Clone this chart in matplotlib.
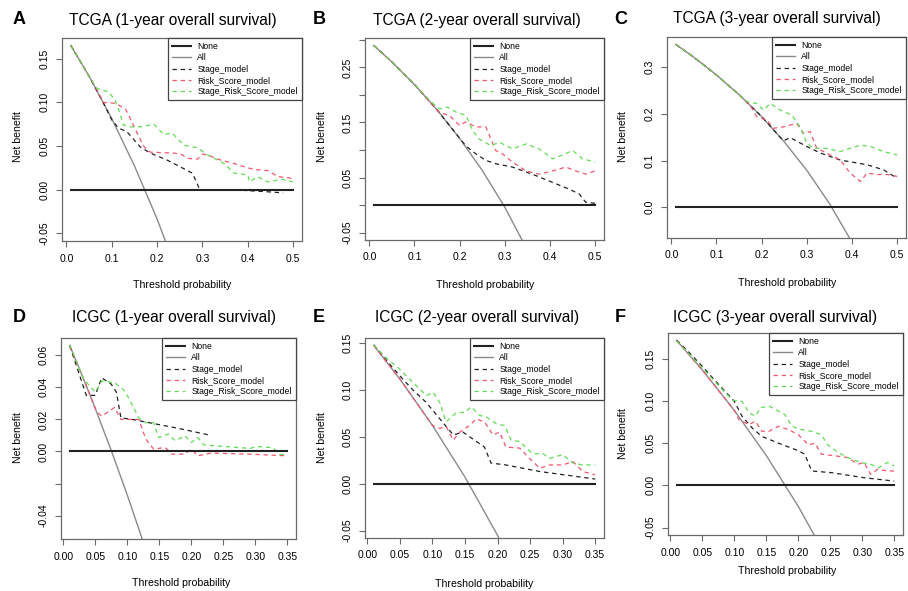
import matplotlib
matplotlib.use("Agg")
import matplotlib.pyplot as plt

plt.rcParams['font.family'] = ['Liberation Sans', 'DejaVu Sans']

W, H = 908, 591

# ---------------- data ----------------
# A  TCGA 1-year
a_all_x = [0.01, 0.05, 0.10, 0.15, 0.20, 0.25]
a_all_y = [0.165, 0.130, 0.0816, 0.0275, -0.0333, -0.102]
a_stage_x = [0.01, 0.05, 0.08, 0.10, 0.115, 0.133, 0.163, 0.185, 0.222, 0.252, 0.278, 0.285, 0.293, 0.296, 0.37, 0.40, 0.444, 0.478]
a_stage_y = [0.165, 0.130, 0.101, 0.080, 0.0705, 0.0667, 0.049, 0.042, 0.034, 0.026, 0.019, 0.011, 0.0015, 0.0, 0.0, -0.001, -0.0023, -0.0035]
a_risk_x = [0.01, 0.05, 0.07, 0.08, 0.107, 0.13, 0.17, 0.185, 0.237, 0.255, 0.267, 0.289, 0.30, 0.32, 0.34, 0.37, 0.40, 0.42, 0.444, 0.467, 0.50]
a_risk_y = [0.165, 0.130, 0.112, 0.100, 0.099, 0.093, 0.050, 0.043, 0.042, 0.040, 0.036, 0.035, 0.041, 0.038, 0.034, 0.030, 0.025, 0.023, 0.022, 0.015, 0.013]
a_comb_x = [0.01, 0.05, 0.067, 0.093, 0.107, 0.115, 0.126, 0.141, 0.163, 0.193, 0.215, 0.233, 0.259, 0.289, 0.311, 0.348, 0.37, 0.40, 0.404, 0.422, 0.444, 0.474, 0.50]
a_comb_y = [0.165, 0.130, 0.116, 0.112, 0.103, 0.092, 0.074, 0.072, 0.072, 0.075, 0.063, 0.065, 0.051, 0.048, 0.040, 0.030, 0.019, 0.017, 0.009, 0.015, 0.009, 0.012, 0.009]

# B  TCGA 2-year
b_all_x = [0.01, 0.05, 0.10, 0.15, 0.20, 0.25, 0.30, 0.35]
b_all_y = [0.290, 0.260, 0.219, 0.173, 0.121, 0.063, -0.004, -0.082]
b_stage_x = [0.01, 0.05, 0.10, 0.15, 0.214, 0.236, 0.258, 0.28, 0.317, 0.361, 0.406, 0.442, 0.465, 0.479, 0.50]
b_stage_y = [0.290, 0.260, 0.219, 0.173, 0.107, 0.093, 0.081, 0.075, 0.069, 0.056, 0.041, 0.029, 0.020, 0.005, 0.003]
b_risk_x = [0.01, 0.05, 0.10, 0.155, 0.177, 0.199, 0.214, 0.236, 0.258, 0.28, 0.295, 0.317, 0.347, 0.376, 0.406, 0.435, 0.457, 0.479, 0.50]
b_risk_y = [0.290, 0.260, 0.219, 0.168, 0.163, 0.145, 0.151, 0.142, 0.142, 0.099, 0.093, 0.078, 0.062, 0.056, 0.062, 0.069, 0.062, 0.056, 0.062]
b_comb_x = [0.01, 0.05, 0.10, 0.136, 0.155, 0.173, 0.192, 0.214, 0.229, 0.243, 0.269, 0.288, 0.317, 0.347, 0.376, 0.406, 0.428, 0.45, 0.472, 0.50]
b_comb_y = [0.290, 0.260, 0.219, 0.188, 0.175, 0.178, 0.169, 0.163, 0.135, 0.120, 0.108, 0.114, 0.102, 0.111, 0.102, 0.084, 0.091, 0.099, 0.084, 0.078]

# C  TCGA 3-year
c_all_x = [0.01, 0.05, 0.10, 0.15, 0.20, 0.25, 0.30, 0.35, 0.40]
c_all_y = [0.3485, 0.321, 0.283, 0.241, 0.194, 0.140, 0.079, 0.008, -0.075]
c_stage_x = [0.01, 0.05, 0.10, 0.15, 0.20, 0.241, 0.248, 0.263, 0.30, 0.33, 0.374, 0.433, 0.47, 0.50]
c_stage_y = [0.3485, 0.321, 0.283, 0.241, 0.194, 0.150, 0.142, 0.149, 0.130, 0.116, 0.101, 0.091, 0.080, 0.062]
c_risk_x = [0.01, 0.05, 0.10, 0.15, 0.175, 0.189, 0.211, 0.226, 0.248, 0.263, 0.278, 0.293, 0.307, 0.322, 0.344, 0.374, 0.396, 0.419, 0.433, 0.456, 0.478, 0.50]
c_risk_y = [0.3485, 0.321, 0.283, 0.241, 0.218, 0.194, 0.187, 0.169, 0.172, 0.176, 0.179, 0.158, 0.162, 0.126, 0.116, 0.101, 0.073, 0.055, 0.073, 0.070, 0.070, 0.066]
c_comb_x = [0.01, 0.05, 0.10, 0.15, 0.167, 0.189, 0.204, 0.219, 0.241, 0.267, 0.285, 0.30, 0.315, 0.344, 0.374, 0.389, 0.419, 0.441, 0.47, 0.50]
c_comb_y = [0.3485, 0.321, 0.283, 0.241, 0.226, 0.222, 0.208, 0.222, 0.208, 0.197, 0.172, 0.137, 0.126, 0.126, 0.119, 0.124, 0.133, 0.130, 0.119, 0.112]

# D  ICGC 1-year
d_all_x = [0.01, 0.03, 0.05, 0.075, 0.10, 0.125, 0.15]
d_all_y = [0.0662, 0.0469, 0.0268, 0.0005, -0.0272, -0.0566, -0.0876]
d_stage_x = [0.01, 0.036, 0.05, 0.06, 0.075, 0.083, 0.09, 0.108, 0.134, 0.185, 0.231]
d_stage_y = [0.066, 0.035, 0.035, 0.046, 0.042, 0.037, 0.021, 0.020, 0.018, 0.014, 0.010]
d_risk_x = [0.01, 0.03, 0.052, 0.06, 0.08, 0.09, 0.118, 0.129, 0.141, 0.159, 0.17, 0.19, 0.20, 0.21, 0.231, 0.292, 0.35]
d_risk_y = [0.066, 0.047, 0.025, 0.022, 0.0275, 0.020, 0.020, 0.0077, 0.0015, 0.0025, -0.0017, -0.0017, 0.0015, -0.0027, -0.001, -0.0017, -0.0027]
d_comb_x = [0.01, 0.032, 0.05, 0.06, 0.08, 0.093, 0.10, 0.118, 0.129, 0.141, 0.149, 0.164, 0.175, 0.19, 0.20, 0.21, 0.22, 0.251, 0.292, 0.302, 0.328, 0.338, 0.35]
d_comb_y = [0.0665, 0.045, 0.037, 0.044, 0.043, 0.039, 0.035, 0.021, 0.018, 0.018, 0.0087, 0.0108, 0.0067, 0.0098, 0.0056, 0.0088, 0.004, 0.0031, 0.0019, 0.0031, 0.0023, -0.002, -0.0017]

# E  ICGC 2-year
e_all_x = [0.01, 0.05, 0.10, 0.15, 0.20, 0.25]
e_all_y = [0.1475, 0.1116, 0.0622, 0.0071, -0.055, -0.125]
e_stage_x = [0.01, 0.03, 0.05, 0.07, 0.09, 0.132, 0.147, 0.18, 0.19, 0.213, 0.265, 0.35]
e_stage_y = [0.148, 0.131, 0.115, 0.100, 0.087, 0.052, 0.055, 0.039, 0.022, 0.020, 0.013, 0.005]
e_risk_x = [0.01, 0.05, 0.10, 0.111, 0.121, 0.132, 0.142, 0.157, 0.167, 0.18, 0.193, 0.203, 0.213, 0.234, 0.249, 0.265, 0.28, 0.30, 0.316, 0.331, 0.35]
e_risk_y = [0.1475, 0.1116, 0.0622, 0.059, 0.061, 0.0465, 0.055, 0.062, 0.069, 0.066, 0.052, 0.055, 0.039, 0.038, 0.027, 0.0165, 0.020, 0.020, 0.0236, 0.013, 0.0095]
e_comb_x = [0.01, 0.029, 0.05, 0.07, 0.091, 0.101, 0.111, 0.121, 0.137, 0.149, 0.16, 0.172, 0.183, 0.198, 0.211, 0.221, 0.234, 0.254, 0.27, 0.28, 0.30, 0.316, 0.331, 0.35]
e_comb_y = [0.148, 0.134, 0.122, 0.108, 0.094, 0.0975, 0.087, 0.066, 0.076, 0.076, 0.082, 0.073, 0.071, 0.064, 0.062, 0.0465, 0.045, 0.032, 0.032, 0.027, 0.031, 0.022, 0.020, 0.020]

# F  ICGC 3-year
f_all_x = [0.01, 0.05, 0.10, 0.15, 0.20, 0.25]
f_all_y = [0.1717, 0.1368, 0.0889, 0.0353, -0.025, -0.0933]
f_stage_x = [0.01, 0.03, 0.05, 0.075, 0.10, 0.112, 0.128, 0.143, 0.169, 0.20, 0.21, 0.221, 0.252, 0.303, 0.35]
f_stage_y = [0.172, 0.157, 0.141, 0.120, 0.0996, 0.082, 0.068, 0.058, 0.050, 0.041, 0.037, 0.017, 0.015, 0.009, 0.005]
f_risk_x = [0.01, 0.05, 0.10, 0.107, 0.123, 0.133, 0.143, 0.154, 0.169, 0.185, 0.20, 0.216, 0.226, 0.236, 0.257, 0.277, 0.293, 0.303, 0.313, 0.324, 0.339, 0.35]
f_risk_y = [0.1717, 0.1368, 0.0889, 0.078, 0.072, 0.076, 0.064, 0.064, 0.070, 0.066, 0.060, 0.048, 0.050, 0.037, 0.035, 0.033, 0.025, 0.027, 0.013, 0.019, 0.017, 0.017]
f_comb_x = [0.01, 0.025, 0.045, 0.066, 0.087, 0.097, 0.112, 0.123, 0.133, 0.141, 0.154, 0.169, 0.179, 0.19, 0.205, 0.221, 0.236, 0.246, 0.262, 0.277, 0.298, 0.313, 0.326, 0.339, 0.35]
f_comb_y = [0.171, 0.159, 0.143, 0.126, 0.109, 0.101, 0.0996, 0.086, 0.082, 0.092, 0.094, 0.088, 0.084, 0.070, 0.066, 0.064, 0.060, 0.048, 0.039, 0.033, 0.027, 0.025, 0.021, 0.027, 0.023]

titles = ["TCGA (1-year overall survival)", "TCGA (2-year overall survival)", "TCGA (3-year overall survival)",
          "ICGC (1-year overall survival)", "ICGC (2-year overall survival)", "ICGC (3-year overall survival)"]
letters = ["A", "B", "C", "D", "E", "F"]
legend_labels = ["None", "All", "Stage_model", "Risk_Score_model", "Stage_Risk_Score_model"]

top_xticks = [0.0, 0.1, 0.2, 0.3, 0.4, 0.5]
top_xlabels = ["0.0", "0.1", "0.2", "0.3", "0.4", "0.5"]
bot_xticks = [0.0, 0.05, 0.10, 0.15, 0.20, 0.25, 0.30, 0.35]
bot_xlabels = ["0.00", "0.05", "0.10", "0.15", "0.20", "0.25", "0.30", "0.35"]

a_yticks = [-0.05, 0.0, 0.05, 0.10, 0.15]
a_ylabels = ["-0.05", "0.00", "0.05", "0.10", "0.15"]
b_yticks = [-0.05, 0.0, 0.05, 0.10, 0.15, 0.20, 0.25, 0.30]
b_ylabels = ["-0.05", "", "0.05", "", "0.15", "", "0.25", ""]
c_yticks = [0.0, 0.1, 0.2, 0.3]
c_ylabels = ["0.0", "0.1", "0.2", "0.3"]
d_yticks = [-0.04, -0.02, 0.0, 0.02, 0.04, 0.06]
d_ylabels = ["-0.04", "", "0.00", "0.02", "0.04", "0.06"]
ef_yticks = [-0.05, 0.0, 0.05, 0.10, 0.15]
ef_ylabels = ["-0.05", "0.00", "0.05", "0.10", "0.15"]

panels = [
    (a_all_x, a_all_y, a_stage_x, a_stage_y, a_risk_x, a_risk_y, a_comb_x, a_comb_y, 0.5, top_xticks, top_xlabels, a_yticks, a_ylabels),
    (b_all_x, b_all_y, b_stage_x, b_stage_y, b_risk_x, b_risk_y, b_comb_x, b_comb_y, 0.5, top_xticks, top_xlabels, b_yticks, b_ylabels),
    (c_all_x, c_all_y, c_stage_x, c_stage_y, c_risk_x, c_risk_y, c_comb_x, c_comb_y, 0.5, top_xticks, top_xlabels, c_yticks, c_ylabels),
    (d_all_x, d_all_y, d_stage_x, d_stage_y, d_risk_x, d_risk_y, d_comb_x, d_comb_y, 0.35, bot_xticks, bot_xlabels, d_yticks, d_ylabels),
    (e_all_x, e_all_y, e_stage_x, e_stage_y, e_risk_x, e_risk_y, e_comb_x, e_comb_y, 0.35, bot_xticks, bot_xlabels, ef_yticks, ef_ylabels),
    (f_all_x, f_all_y, f_stage_x, f_stage_y, f_risk_x, f_risk_y, f_comb_x, f_comb_y, 0.35, bot_xticks, bot_xlabels, ef_yticks, ef_ylabels),
]

# axes boxes in pixels: left, right, top, bottom
boxes = [(62, 302, 38, 241), (365, 604, 38, 240), (667, 906, 37, 238),
         (61, 296, 338, 539), (365, 604, 338, 538), (668, 903, 333, 535)]
title_pos = [(173, 20), (477, 20), (777, 19), (174, 318), (477, 318), (775, 318)]
letter_pos = [(19, 20), (319, 20), (621, 19), (19, 318), (319, 318), (620, 318)]
xlab_pos = [(182, 285), (485, 285), (787, 283), (181, 583), (484, 584), (787, 571)]
ylab_pos = [(18, 137), (322, 137), (623, 137), (18, 438), (322, 438), (623, 434)]

fig = plt.figure(figsize=(W / 100, H / 100), dpi=100)

grey = "#8a8a8a"
frame = "#6a6a6a"
red = "#f2566f"
green = "#62dc55"
dash = (0, (3.5, 3))

for i, p in enumerate(panels):
    ax_x, ax_y, st_x, st_y, rk_x, rk_y, cb_x, cb_y, xmax, xt, xtl, yt, ytl = p
    l, r, t, b = boxes[i]
    ax = fig.add_axes([l / W, 1 - b / H, (r - l) / W, (b - t) / H])

    ax.plot(ax_x, ax_y, color=grey, lw=1.0, label=legend_labels[1], zorder=2)
    ax.plot(st_x, st_y, color="#222222", lw=0.9, ls=dash, label=legend_labels[2], zorder=3)
    ax.plot(rk_x, rk_y, color=red, lw=0.9, ls=dash, label=legend_labels[3], zorder=3)
    ax.plot(cb_x, cb_y, color=green, lw=0.9, ls=dash, label=legend_labels[4], zorder=3)
    ax.plot([0.01, xmax], [0, 0], color="#222222", lw=1.5, label=legend_labels[0], zorder=4)

    # R style 4% padding
    dx = (xmax - 0.01) * 0.04
    ax.set_xlim(0.01 - dx, xmax + dx)
    ymax = ax_y[0]
    dy = (ymax + 0.05) * 0.04
    ax.set_ylim(-0.05 - dy, ymax + dy)

    ax.set_xticks(xt)
    ax.set_xticklabels(xtl, fontsize=7.5)
    ax.set_yticks(yt)
    ax.set_yticklabels(ytl, fontsize=7.5, rotation=90, va="center")
    ax.tick_params(length=4, width=0.8, color=frame, pad=5)
    for s in ax.spines.values():
        s.set_color(frame)
        s.set_linewidth(0.9)

    h, lab = ax.get_legend_handles_labels()
    order = [4, 0, 1, 2, 3]
    leg = ax.legend([h[k] for k in order], [lab[k] for k in order], loc="upper right",
                    bbox_to_anchor=(1, 1), borderaxespad=0, fontsize=6.2, frameon=True,
                    fancybox=False, framealpha=1, edgecolor="#444444", handlelength=2.2,
                    handletextpad=0.7, labelspacing=0.25, borderpad=0.5)
    leg.get_frame().set_linewidth(0.9)

    tx, ty = title_pos[i]
    fig.text(tx / W, 1 - ty / H, titles[i], fontsize=11.2, ha="center", va="center")
    lx, ly = letter_pos[i]
    fig.text(lx / W, 1 - ly / H, letters[i], fontsize=13, fontweight="bold", ha="center", va="center")
    xx, xy = xlab_pos[i]
    fig.text(xx / W, 1 - xy / H, "Threshold probability", fontsize=7.6, ha="center", va="center")
    yx, yy = ylab_pos[i]
    fig.text(yx / W, 1 - yy / H, "Net benefit", fontsize=7.6, ha="center", va="center", rotation=90)

fig.savefig("out.png", dpi=100)
